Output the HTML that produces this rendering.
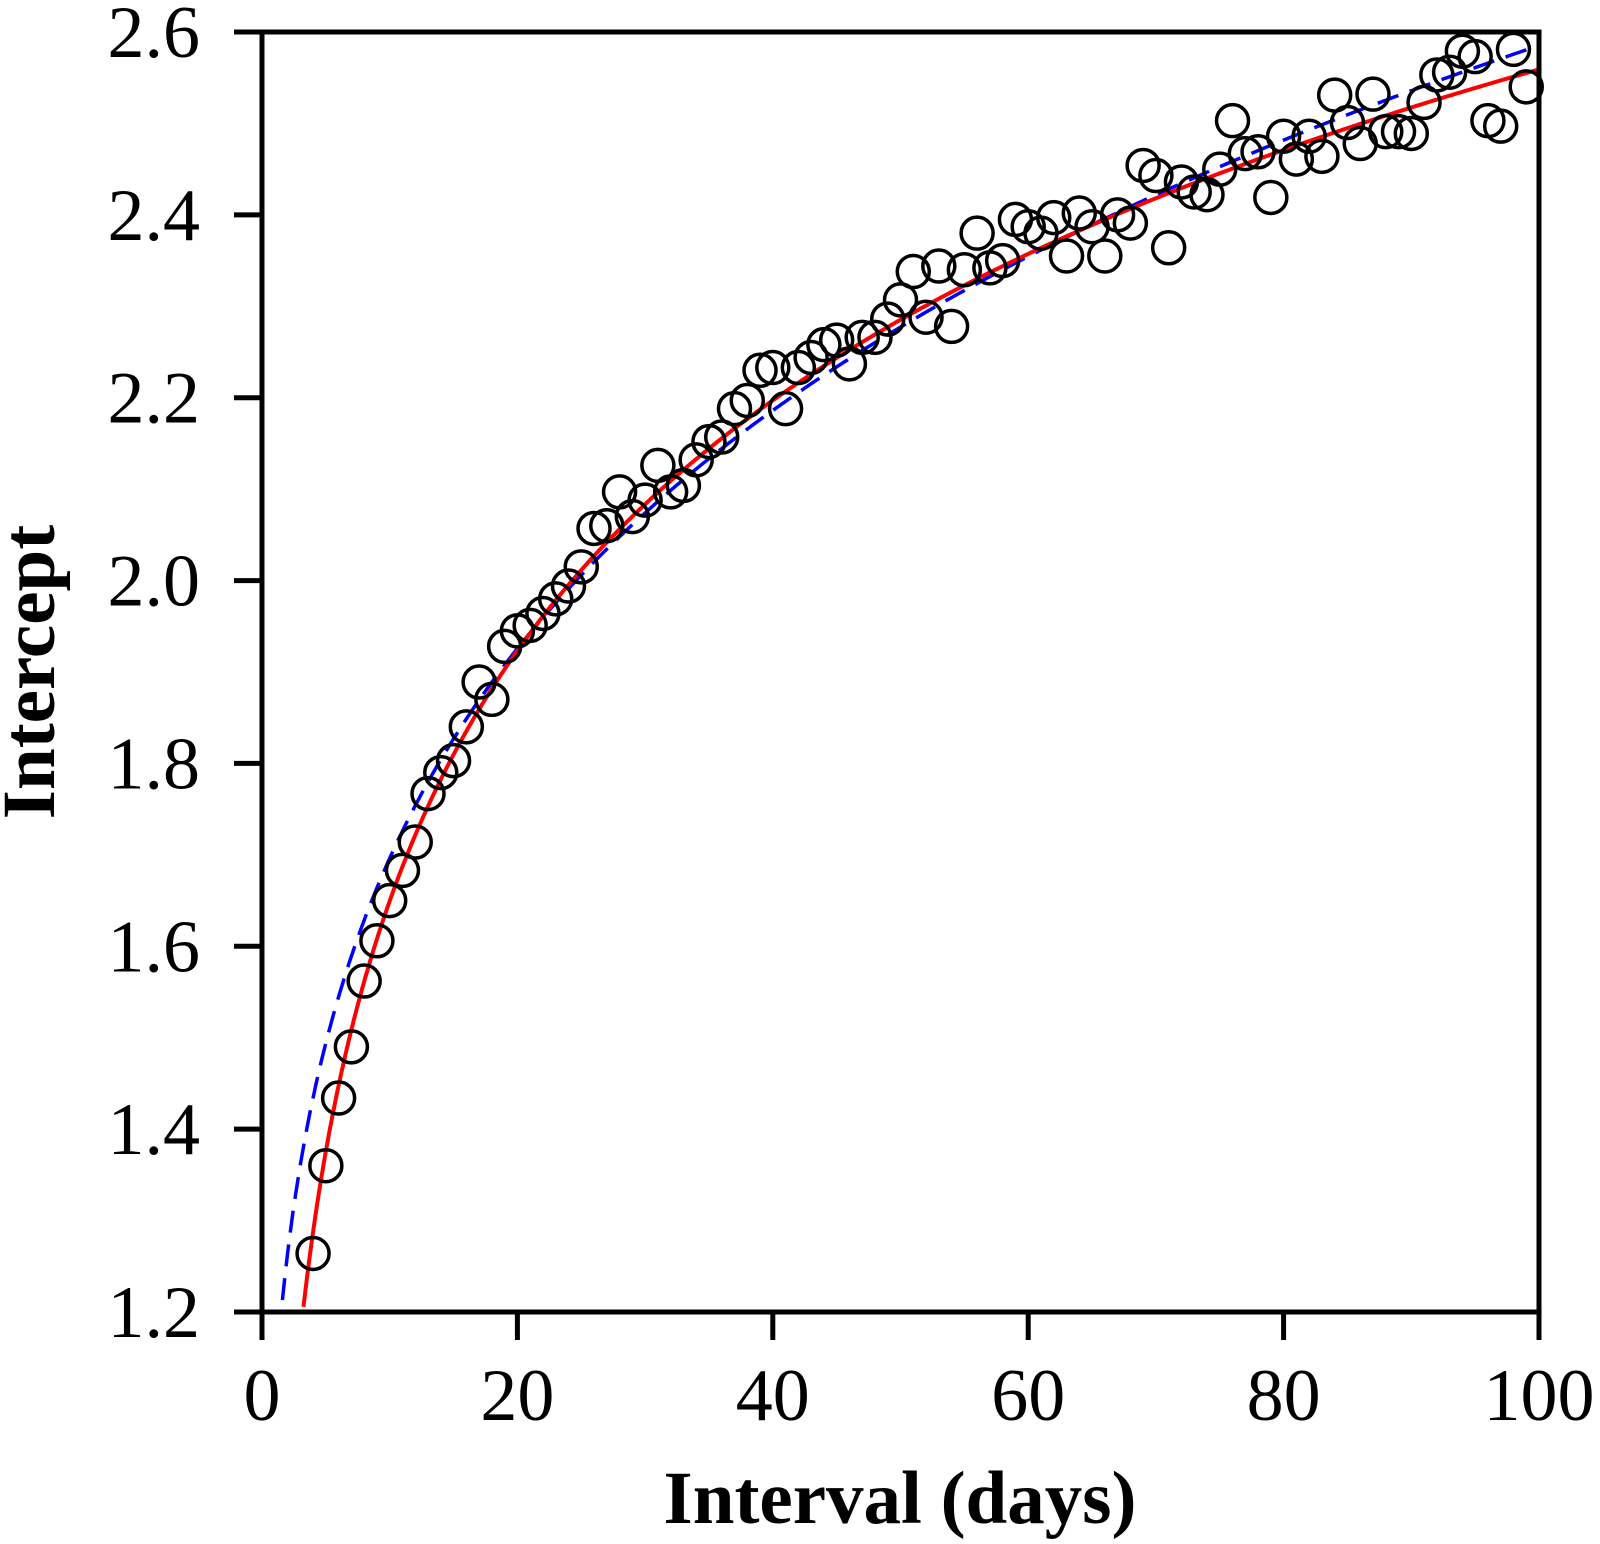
<!DOCTYPE html>
<html><head><meta charset="utf-8"><style>
html,body{margin:0;padding:0;background:#fff;}
svg{display:block;}
text{font-family:"Liberation Serif",serif;fill:#000;}
</style></head><body>
<svg id="chart" width="1600" height="1544" viewBox="0 0 1600 1544" xmlns="http://www.w3.org/2000/svg">
<g id="curves"></g>
<g id="points"></g>
<g id="axes"></g>
</svg>
<script>
const xValues = [4,5,6,7,8,9,10,11,12,13,14,15,16,17,18,19,20,21,22,23,24,25,26,27,28,29,30,31,32,33,34,35,36,37,38,39,40,41,42,43,44,45,46,47,48,49,50,51,52,53,54,55,56,57,58,59,60,61,62,63,64,65,66,67,68,69,70,71,72,73,74,75,76,77,78,79,80,81,82,83,84,85,86,87,88,89,90,91,92,93,94,95,96,97,98,99];
const yValues = [1.264,1.36,1.434,1.49,1.562,1.606,1.65,1.683,1.714,1.767,1.79,1.803,1.84,1.889,1.87,1.928,1.945,1.951,1.964,1.98,1.994,2.015,2.057,2.06,2.097,2.07,2.088,2.126,2.097,2.104,2.132,2.152,2.157,2.188,2.197,2.23,2.233,2.188,2.233,2.244,2.258,2.263,2.237,2.266,2.266,2.286,2.307,2.338,2.288,2.344,2.278,2.34,2.38,2.342,2.35,2.395,2.387,2.38,2.397,2.355,2.402,2.387,2.355,2.4,2.391,2.454,2.443,2.364,2.436,2.425,2.422,2.45,2.503,2.467,2.469,2.419,2.486,2.461,2.486,2.464,2.531,2.501,2.478,2.532,2.491,2.491,2.489,2.523,2.553,2.556,2.579,2.573,2.503,2.497,2.581,2.54];
const logFitParams = [0.74, 0.395];      // y = a + b ln x
const powerFitParams = [1.113, 0.183];   // y = a x^b
const xTicks = [0,20,40,60,80,100];
const yTicks = [1.2,1.4,1.6,1.8,2.0,2.2,2.4,2.6];
const yTickLabels = ["1.2","1.4","1.6","1.8","2.0","2.2","2.4","2.6"];

const X0=262, X1=1539, Y0=1312, Y1=32;
const xs = v => X0 + (v-0)/(100-0)*(X1-X0);
const ys = v => Y0 - (v-1.2)/(2.6-1.2)*(Y0-Y1);
const NS="http://www.w3.org/2000/svg";
function mk(tag, parent){const e=document.createElementNS(NS,tag);parent.appendChild(e);return e;}

const curves=document.getElementById('curves');
let d="";
for(let x=1.2;x<=100.001;x+=0.1){const y=powerFitParams[0]*Math.pow(x,powerFitParams[1]); if(y<1.2) continue; d+=(d?"L":"M")+xs(x).toFixed(1)+","+ys(y).toFixed(1);}
const pw=mk('path',curves);


pw.setAttribute('d',d);pw.setAttribute('fill','none');pw.setAttribute('stroke','#0000ff');pw.setAttribute('stroke-width','3.5');pw.setAttribute('stroke-dasharray','22,12');
d="";
for(let x=2;x<=100.001;x+=0.05){const y=logFitParams[0]+logFitParams[1]*Math.log(x); if(y<1.2) continue; d+=(d?"L":"M")+xs(x).toFixed(1)+","+ys(y).toFixed(1);}
const lg=mk('path',curves);


lg.setAttribute('d',d);lg.setAttribute('fill','none');lg.setAttribute('stroke','#ff0000');lg.setAttribute('stroke-width','4');

const pts=document.getElementById('points');
xValues.forEach((x,i)=>{
  const c=mk('circle',pts);
  
  
  c.setAttribute('cx',xs(x));c.setAttribute('cy',ys(yValues[i]));c.setAttribute('r','16');
  c.setAttribute('fill','none');c.setAttribute('stroke','#000');c.setAttribute('stroke-width','3.5');
});

const ax=document.getElementById('axes');
const frame=mk('rect',ax);


frame.setAttribute('x',X0);frame.setAttribute('y',Y1);frame.setAttribute('width',X1-X0);frame.setAttribute('height',Y0-Y1);
frame.setAttribute('fill','none');frame.setAttribute('stroke','#000');frame.setAttribute('stroke-width','5');
xTicks.forEach(v=>{
  const t=mk('line',ax);
  
  
  t.setAttribute('x1',xs(v));t.setAttribute('x2',xs(v));t.setAttribute('y1',Y0);t.setAttribute('y2',Y0+28);
  t.setAttribute('stroke','#000');t.setAttribute('stroke-width','5');
  const l=mk('text',ax);
  
  
  l.setAttribute('x',xs(v));l.setAttribute('y',1420);l.setAttribute('text-anchor','middle');l.setAttribute('font-size','74');
  l.textContent=String(v);
});
yTicks.forEach((v,i)=>{
  const t=mk('line',ax);
  
  
  t.setAttribute('x1',X0-28);t.setAttribute('x2',X0);t.setAttribute('y1',ys(v));t.setAttribute('y2',ys(v));
  t.setAttribute('stroke','#000');t.setAttribute('stroke-width','5');
  const l=mk('text',ax);
  
  
  l.setAttribute('x',X0-62);l.setAttribute('y',ys(v)+25);l.setAttribute('text-anchor','end');l.setAttribute('font-size','74');
  l.textContent=yTickLabels[i];
});
const xt=mk('text',ax);


xt.setAttribute('x',900);xt.setAttribute('y',1523);xt.setAttribute('text-anchor','middle');xt.setAttribute('font-size','75');xt.setAttribute('font-weight','bold');
xt.textContent='Interval (days)';
const yt=mk('text',ax);


yt.setAttribute('transform','translate(54,672) rotate(-90)');yt.setAttribute('text-anchor','middle');yt.setAttribute('font-size','75');yt.setAttribute('font-weight','bold');
yt.textContent='Intercept';
</script>
</body></html>
